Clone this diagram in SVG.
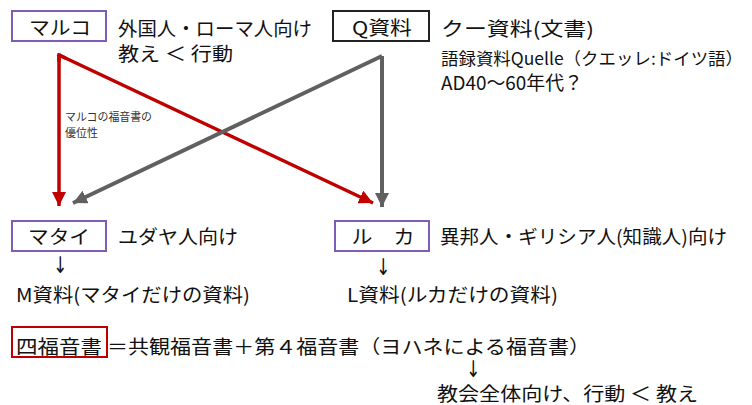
<svg xmlns="http://www.w3.org/2000/svg" width="752" height="405" viewBox="0 0 752 405">
<defs>
<style>
text{font-family:"Noto Sans CJK JP","Noto Sans",sans-serif;fill:#111;font-size:19px}
.box{fill:#fff;stroke-width:2}
.purple{stroke:#7E5DB8}
.black{stroke:#222}
.redbox{stroke:#C00000;fill:none}
.small{font-size:11px;fill:#333}
.red{stroke:#C00000;stroke-width:3.5;fill:none}
.gray{stroke:#606060;stroke-width:4;fill:none}
.c{text-anchor:middle}
.dn{font-family:"DejaVu Sans",sans-serif;font-size:17px;text-anchor:middle;fill:#111}
</style>
<marker id="ar" markerUnits="userSpaceOnUse" markerWidth="14" markerHeight="14" refX="14" refY="7" orient="auto" viewBox="0 0 14 14"><path d="M0,0 L14,7 L0,14 z" fill="#C00000"/></marker>
<marker id="ag" markerUnits="userSpaceOnUse" markerWidth="14" markerHeight="14" refX="14" refY="7" orient="auto" viewBox="0 0 14 14"><path d="M0,0 L14,7 L0,14 z" fill="#606060"/></marker>
</defs>
<rect width="752" height="405" fill="#fff"/>
<g id="connectors">
<line class="red" x1="59" y1="55" x2="59" y2="206" marker-end="url(#ar)"/>
<line class="red" x1="59" y1="55" x2="373" y2="203" marker-end="url(#ar)"/>
<line class="gray" x1="382" y1="56" x2="73" y2="203" marker-end="url(#ag)"/>
<line class="gray" x1="382" y1="56" x2="382" y2="207" marker-end="url(#ag)"/>
<path class="red" d="M59,55 L59,60 M59,55 L64,57.4" stroke-linecap="square"/>
<text class="small" x="65" y="121" textLength="87" lengthAdjust="spacingAndGlyphs">マルコの福音書の</text>
<text class="small" x="65" y="137">優位性</text>
</g>
<g id="marco">
<rect class="box purple" x="12" y="11" width="94" height="30"/>
<text class="c" x="60" y="35" textLength="62" lengthAdjust="spacingAndGlyphs">マルコ</text>
<text x="118" y="36" textLength="194" lengthAdjust="spacingAndGlyphs">外国人・ローマ人向け</text>
<text x="118" y="61" textLength="115" lengthAdjust="spacingAndGlyphs">教え ＜ 行動</text>
</g>
<g id="q">
<rect class="box black" x="333" y="11" width="96" height="30"/>
<text class="c" x="382" y="35" textLength="60" lengthAdjust="spacingAndGlyphs">Q資料</text>
<text x="441" y="36" textLength="153" lengthAdjust="spacingAndGlyphs">クー資料(文書)</text>
<text x="441" y="65" textLength="302" lengthAdjust="spacingAndGlyphs" style="font-size:17px">語録資料Quelle（クエッレ:ドイツ語）</text>
<text x="441" y="90" textLength="142" lengthAdjust="spacingAndGlyphs">AD40～60年代？</text>
</g>
<g id="matai">
<rect class="box purple" x="12" y="221" width="94" height="30"/>
<text class="c" x="59" y="244" textLength="62" lengthAdjust="spacingAndGlyphs">マタイ</text>
<text x="118" y="244" textLength="120" lengthAdjust="spacingAndGlyphs">ユダヤ人向け</text>
<text class="dn" transform="translate(60,273) scale(1,1.35)">↓</text>
<text x="16" y="302" textLength="234" lengthAdjust="spacingAndGlyphs">M資料(マタイだけの資料)</text>
</g>
<g id="luka">
<rect class="box purple" x="335" y="221" width="94" height="30"/>
<text class="c" x="383" y="244" textLength="63" lengthAdjust="spacingAndGlyphs">ル　カ</text>
<text x="440" y="244" textLength="287" lengthAdjust="spacingAndGlyphs">異邦人・ギリシア人(知識人)向け</text>
<text class="dn" transform="translate(383,275) scale(1,1.35)">↓</text>
<text x="347" y="302" textLength="211" lengthAdjust="spacingAndGlyphs">L資料(ルカだけの資料)</text>
</g>
<g id="four">
<rect class="redbox" x="12" y="327" width="95" height="30" stroke-width="2"/>
<text x="16" y="354" textLength="86" lengthAdjust="spacingAndGlyphs">四福音書</text>
<text x="107" y="354" textLength="483" lengthAdjust="spacingAndGlyphs">＝共観福音書＋第４福音書（ヨハネによる福音書）</text>
<text class="dn" transform="translate(473,377) scale(1,1.35)">↓</text>
<text x="437" y="401" textLength="261" lengthAdjust="spacingAndGlyphs">教会全体向け、行動 ＜ 教え</text>
</g>
</svg>
